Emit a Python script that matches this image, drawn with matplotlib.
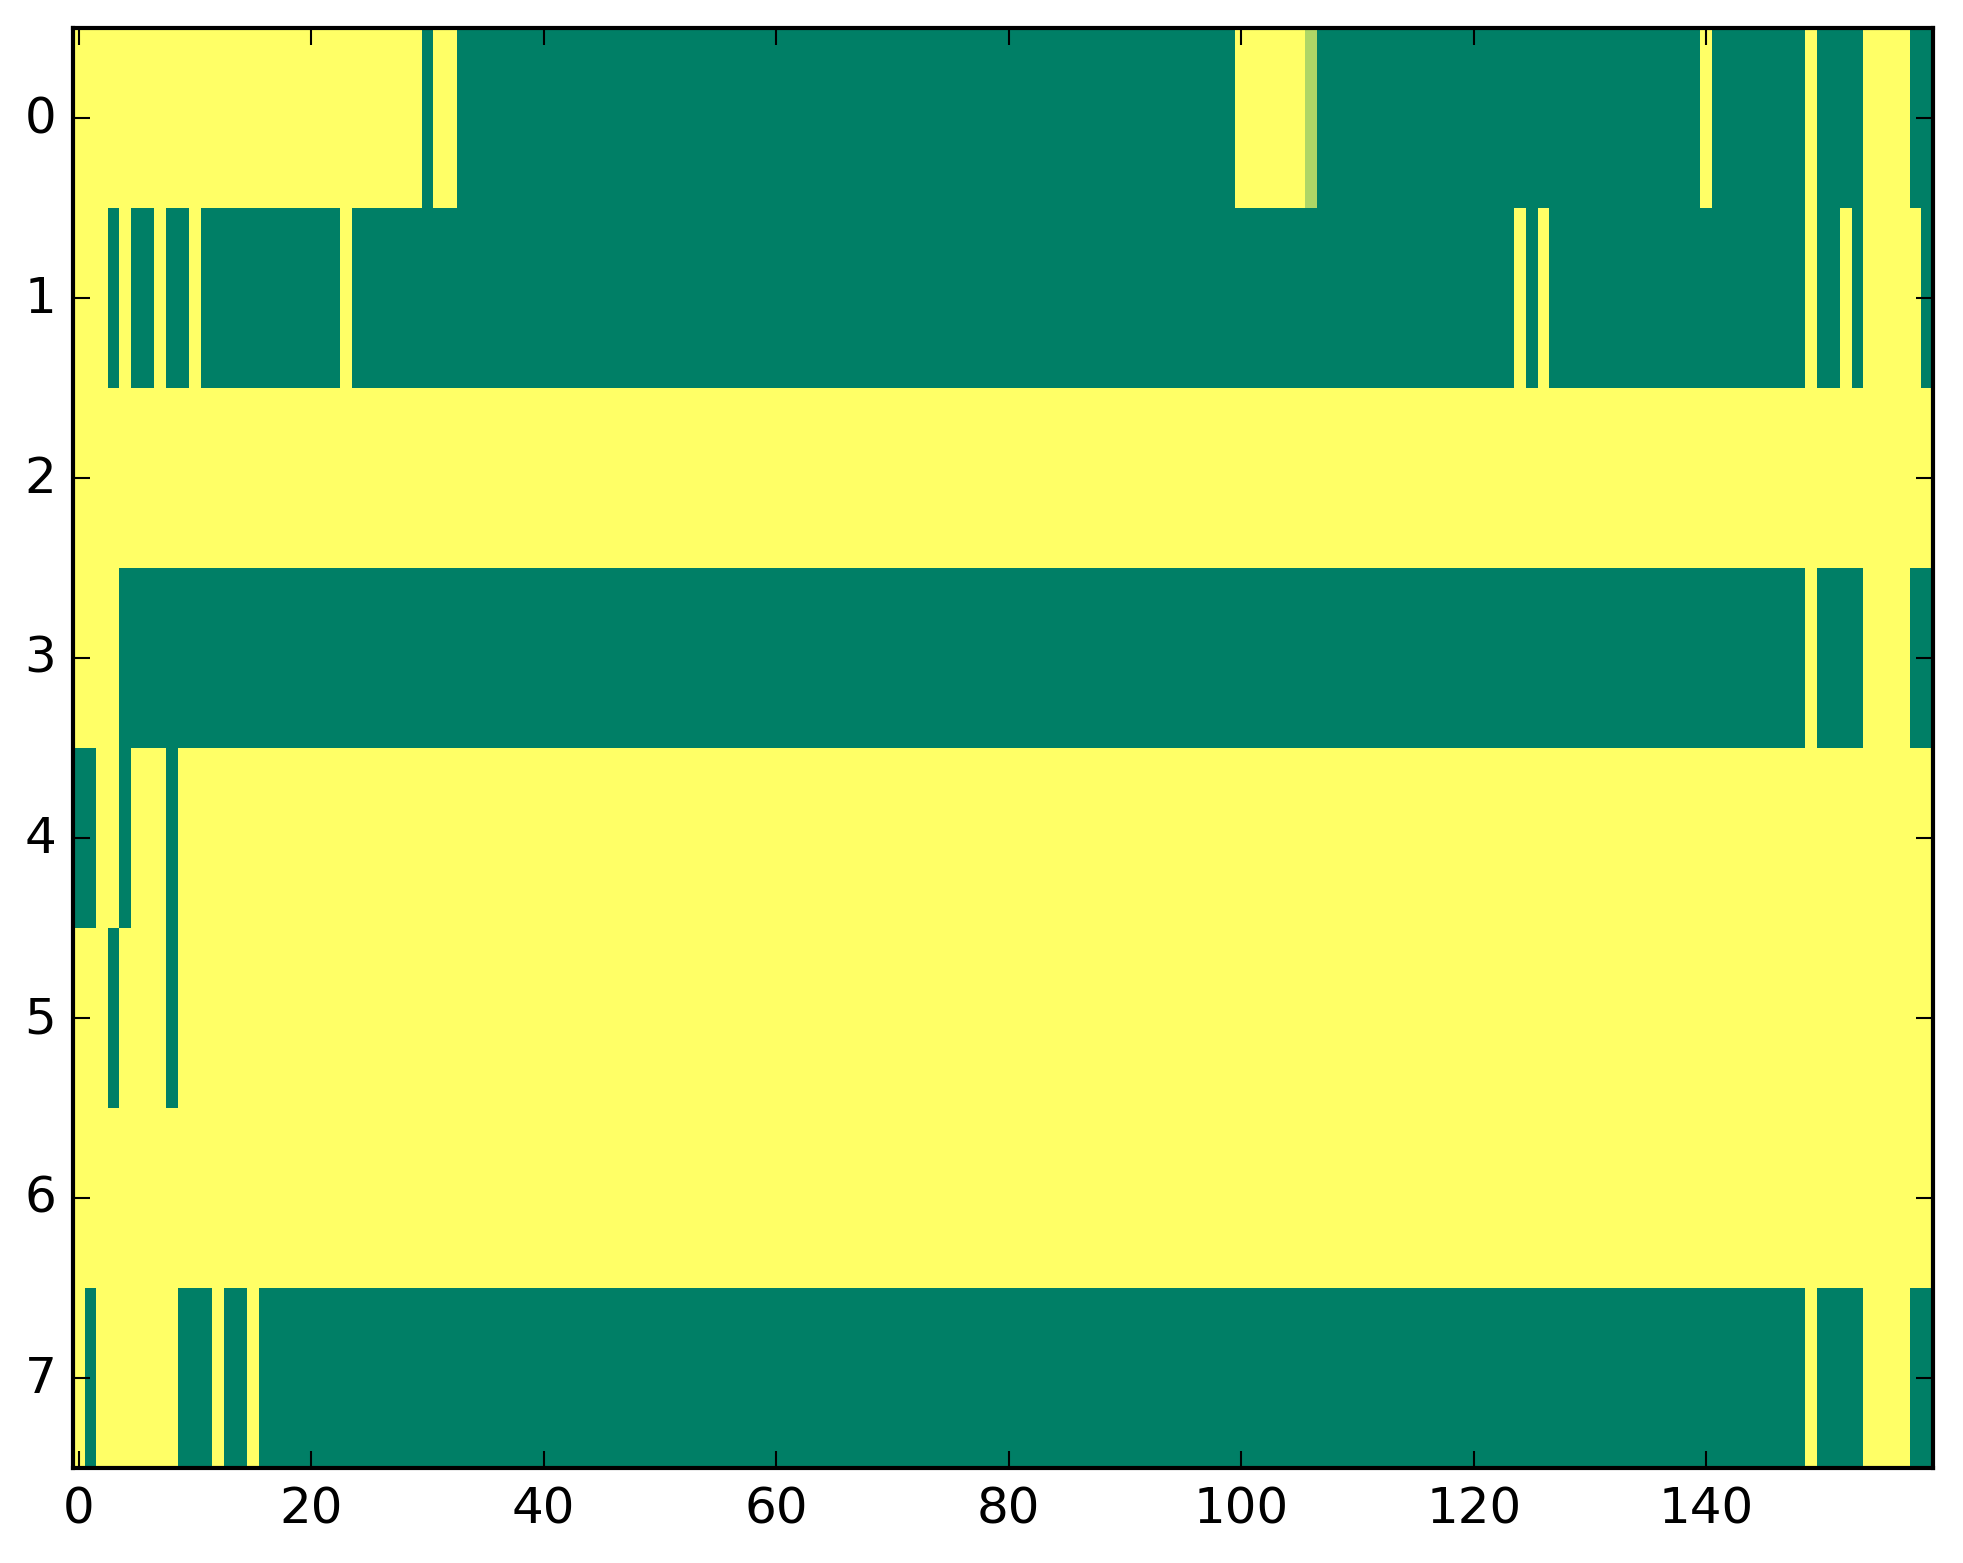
import matplotlib
matplotlib.use("Agg")
import matplotlib.pyplot as plt
import numpy as np

plt.style.use('classic')

# each row as (value, run length) pairs, 160 columns per row
row0 = [(1, 30), (0, 1), (1, 2), (0, 67), (1, 6), (0.68, 1), (0, 33), (1, 1),
        (0, 8), (1, 1), (0, 4), (1, 4), (0, 2)]
row1 = [(1, 3), (0, 1), (1, 1), (0, 2), (1, 1), (0, 2), (1, 1), (0, 12), (1, 1),
        (0, 100), (1, 1), (0, 1), (1, 1), (0, 22), (1, 1), (0, 2), (1, 1), (0, 1),
        (1, 5), (0, 1)]
row2 = [(1, 160)]
row3 = [(1, 4), (0, 145), (1, 1), (0, 4), (1, 4), (0, 2)]
row4 = [(0, 2), (1, 2), (0, 1), (1, 3), (0, 1), (1, 151)]
row5 = [(1, 3), (0, 1), (1, 4), (0, 1), (1, 151)]
row6 = [(1, 160)]
row7 = [(1, 1), (0, 1), (1, 7), (0, 3), (1, 1), (0, 2), (1, 1), (0, 133), (1, 1),
        (0, 4), (1, 4), (0, 2)]

rows = [row0, row1, row2, row3, row4, row5, row6, row7]


def expand(runs):
    vals = [v for v, n in runs]
    counts = [n for v, n in runs]
    return np.repeat(vals, counts)


data = np.array([expand(r) for r in rows])

W, H, dpi = 1963, 1564, 300
fig = plt.figure(figsize=(W / dpi, H / dpi), dpi=dpi)
ax = fig.add_axes([73 / W, 1 - 1469 / H, 1860 / W, 1440 / H])
ax.imshow(data, cmap='summer', vmin=0, vmax=1, aspect='auto',
          interpolation='nearest')
ax.set_xlim(-0.5, 159.5)
ax.set_ylim(7.5, -0.5)
ax.set_xticks(np.arange(0, 160, 20))
ax.set_yticks(np.arange(0, 8))

fig.savefig('out.png', dpi=dpi)
